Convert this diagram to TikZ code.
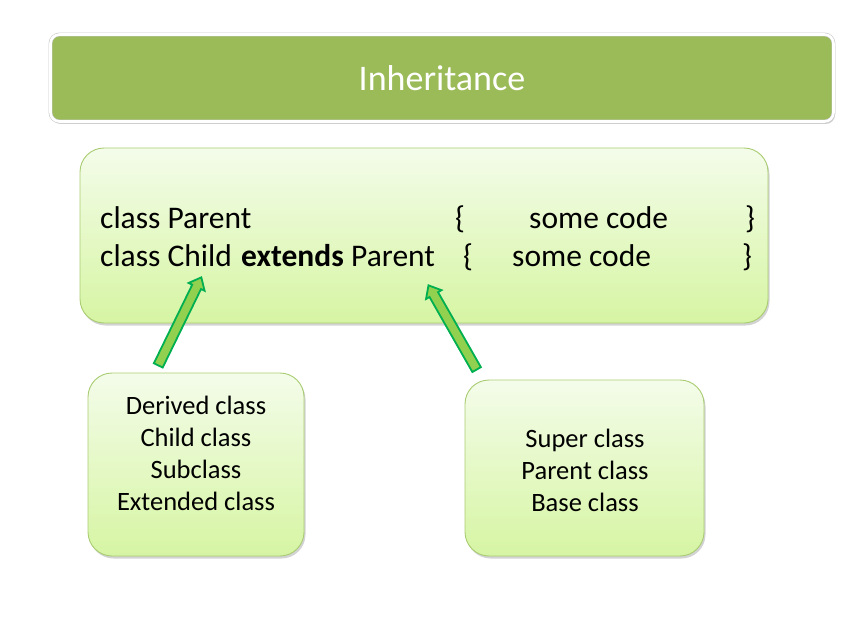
\documentclass[tikz,border=0pt]{standalone}
\usepackage{fontspec}
\setmainfont{Carlito}
\usetikzlibrary{shadows,shapes.arrows}

\definecolor{titlegreen}{HTML}{9BBB59}
\definecolor{titleedge}{HTML}{C8C8C8}
\definecolor{boxline}{HTML}{A9CC72}
\definecolor{boxtop}{HTML}{F4FCEA}
\definecolor{boxbottom}{HTML}{D6F5A3}
\definecolor{arrowline}{HTML}{00B050}
\definecolor{arrowfill}{HTML}{92D050}

\tikzset{
	softshadow/.style={drop shadow={shadow xshift=1.5pt, shadow yshift=-2.5pt, opacity=0.35, fill=gray}},
	titlebox/.style={draw=titleedge, line width=0.6pt, double=white, double distance=2.6pt, fill=titlegreen, rounded corners=9pt, softshadow},
	greenbox/.style={draw=boxline, line width=0.9pt, top color=boxtop, bottom color=boxbottom, rounded corners=24pt, softshadow},
	boxtext/.style={font=\fontsize{26.5}{32}\selectfont, align=center, inner sep=0pt},
	codetext/.style={font=\fontsize{31.5}{38}\selectfont, inner sep=0pt, anchor=base west},
	blockarrow/.style={single arrow, draw=arrowline, fill=arrowfill, line width=1.8pt, inner sep=4pt,
		single arrow head extend=4pt, single arrow tip angle=80, minimum height=#1, sloped, allow upside down}
}

\begin{document}
\begin{tikzpicture}[x=1pt, y=-1pt]
	\useasboundingbox (0,0) rectangle (866,636);

	% title bar
	\node[titlebox, minimum width=783pt, minimum height=87pt] (title) at (442,78) {};
	\node[font=\fontsize{36}{40}\selectfont, text=white, inner sep=0pt] (titletext) at (442,78) {Inheritance};

	% boxes
	\node[greenbox, minimum width=688pt, minimum height=175pt] (code) at (424,235.5) {};
	\node[greenbox, minimum width=216pt, minimum height=183pt] (derived) at (196,464.5) {};
	\node[greenbox, minimum width=239pt, minimum height=176pt] (super) at (584.5,468) {};

	% code lines
	\node[codetext] (parentname) at (100,228) {class Parent};
	\node[codetext] (parentopen) at (455,228) {\{};
	\node[codetext] (parentbody) at (529,228) {some code};
	\node[codetext] (parentclose) at (745,228) {\}};

	\node[codetext] (childname) at (100,266) {class Child};
	\node[codetext] (childext) at (241,266) {\textbf{extends}};
	\node[codetext] (childparent) at (351,266) {Parent};
	\node[codetext] (childopen) at (463,266) {\{};
	\node[codetext] (childbody) at (512,266) {some code};
	\node[codetext] (childclose) at (742,266) {\}};

	% box labels
	\node[boxtext] (derivedtext) at (196,453) {Derived class\\Child class\\Subclass\\Extended class};
	\node[boxtext] (supertext) at (585,470) {Super class\\Parent class\\Base class};

	% arrows
	\coordinate (derivedtail) at (157,368);
	\coordinate (derivedtip) at (200,280);
	\coordinate (supertail) at (478,372);
	\coordinate (supertip) at (430,288);

	\path (derivedtail) -- (derivedtip) node[midway, blockarrow=98pt] (childarrow) {};
	\path (supertail) -- (supertip) node[midway, blockarrow=97pt] (parentarrow) {};

\end{tikzpicture}
\end{document}
